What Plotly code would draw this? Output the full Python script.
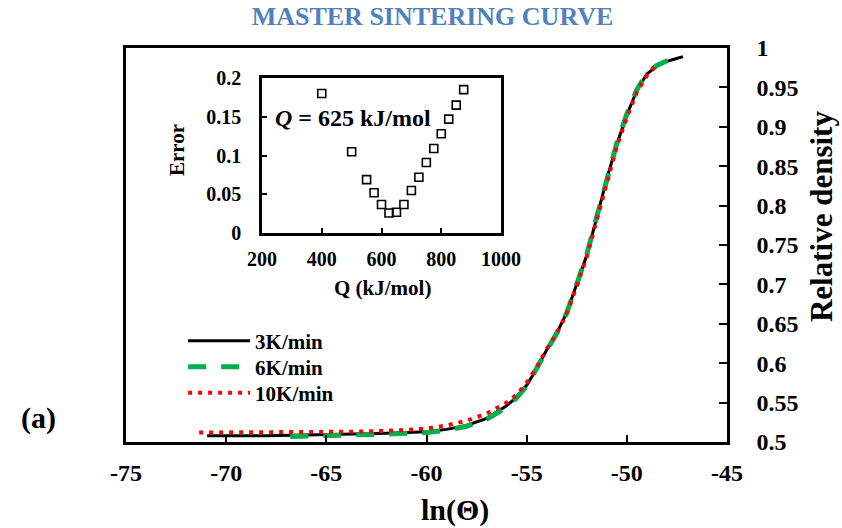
import plotly.graph_objects as go

# ---------------- data ----------------
ln_theta_3 = [-70.95, -68, -66, -64, -62, -60, -59, -58, -57, -56, -55.5, -55, -54.5, -54,
              -53.5, -53, -52.5, -52, -51.5, -51, -50.5, -50, -49.5, -49, -48.5, -48, -47.6, -47.2]
dens_3 = [0.508, 0.508, 0.509, 0.510, 0.511, 0.513, 0.516, 0.521, 0.530, 0.546, 0.557, 0.572, 0.593, 0.617,
          0.638, 0.664, 0.700, 0.737, 0.785, 0.834, 0.878, 0.915, 0.946, 0.967, 0.977, 0.983, 0.986, 0.989]

ln_theta_6 = [-66.8, -64, -62, -60, -59, -58, -57, -56, -55.5, -55, -54.5, -54,
              -53.5, -53, -52.5, -52, -51.5, -51, -50.5, -50, -49.5, -49, -48.5, -47.9]
dens_6 = [0.507, 0.508, 0.510, 0.512, 0.515, 0.520, 0.529, 0.544, 0.556, 0.571, 0.592, 0.616,
          0.638, 0.664, 0.700, 0.738, 0.786, 0.835, 0.879, 0.916, 0.947, 0.968, 0.978, 0.985]

ln_theta_10 = [-71.35, -68, -66, -64, -62, -60, -59, -58, -57, -56, -55.5, -55, -54.5, -54,
               -53.5, -53, -52.5, -52, -51.5, -51, -50.5, -50, -49.5, -49, -48.45]
dens_10 = [0.512, 0.512, 0.513, 0.513, 0.514, 0.517, 0.521, 0.527, 0.536, 0.550, 0.560, 0.575, 0.595, 0.618,
           0.638, 0.663, 0.698, 0.735, 0.782, 0.831, 0.875, 0.912, 0.944, 0.965, 0.980]

q_vals = [400, 500, 550, 575, 600, 625, 650, 675, 700, 725, 750, 775, 800, 825, 850, 875]
err_vals = [0.180, 0.105, 0.069, 0.052, 0.037, 0.026, 0.027, 0.037, 0.055, 0.072, 0.091, 0.109,
            0.128, 0.147, 0.165, 0.185]

x_ticks = [-75, -70, -65, -60, -55, -50, -45]
x_ticktext = ["-75", "-70", "-65", "-60", "-55", "-50", "-45"]
y_ticks = [0.5, 0.55, 0.6, 0.65, 0.7, 0.75, 0.8, 0.85, 0.9, 0.95, 1]
y_ticktext = ["0.5", "0.55", "0.6", "0.65", "0.7", "0.75", "0.8", "0.85", "0.9", "0.95", "1"]
ix_ticks = [200, 400, 600, 800, 1000]
iy_ticks = [0, 0.05, 0.1, 0.15, 0.2]
iy_ticktext = ["0", "0.05", "0.1", "0.15", "0.2"]

FONT = "Liberation Serif"

fig = go.Figure()
fig.add_trace(go.Scatter(x=ln_theta_3, y=dens_3, mode="lines", name="3K/min",
                         line=dict(color="black", width=3), legend="legend"))
fig.add_trace(go.Scatter(x=ln_theta_6, y=dens_6, mode="lines", name="6K/min",
                         line=dict(color="#00B050", width=5, dash="18px,15px"), legend="legend2"))
fig.add_trace(go.Scatter(x=ln_theta_10, y=dens_10, mode="lines", name="10K/min",
                         line=dict(color="#FF0000", width=4, dash="4px,6px"), legend="legend3"))
fig.add_trace(go.Scatter(x=q_vals, y=err_vals, mode="markers", xaxis="x2", yaxis="y2",
                         showlegend=False,
                         marker=dict(symbol="square-open", size=8, color="black",
                                     line=dict(width=1.6, color="black"))))

axis_common = dict(showgrid=False, zeroline=False, showline=True, linecolor="black",
                   mirror=True, ticks="inside", tickcolor="black", automargin=False)


def bfont(size, color="black"):
    return dict(family=FONT, size=size, color=color, weight="bold")


def leg(py):
    return dict(x=0.095, y=(442 - py) / 394, xanchor="left", yanchor="middle",
                bgcolor="rgba(0,0,0,0)", font=bfont(21), itemwidth=62)


fig.update_layout(
    width=842, height=528,
    margin=dict(l=126, r=115, t=48, b=86),
    paper_bgcolor="white", plot_bgcolor="white",
    font=dict(family=FONT, color="black"),
    title=dict(text="MASTER SINTERING CURVE", x=0.51, xref="paper", xanchor="center",
               y=1 - 16 / 528, yref="container", yanchor="middle",
               font=bfont(26, "#4F81BD")),
    xaxis=dict(**axis_common, range=[-75, -45], tickvals=x_ticks, ticktext=x_ticktext,
               linewidth=2.5, tickwidth=2, ticklen=7, ticklabelstandoff=7,
               tickfont=bfont(24)),
    yaxis=dict(**axis_common, range=[0.5, 1], side="right", tickvals=y_ticks, ticktext=y_ticktext,
               linewidth=2.5, tickwidth=2, ticklen=8, ticklabelstandoff=22,
               tickfont=bfont(24)),
    xaxis2=dict(**axis_common, domain=[0.2263, 0.624], anchor="y2", range=[200, 1000],
                tickvals=ix_ticks, linewidth=2.7, tickwidth=2, ticklen=5, ticklabelstandoff=6,
                tickfont=bfont(20)),
    yaxis2=dict(**axis_common, domain=[0.530, 0.924], anchor="x2", range=[0, 0.2],
                tickvals=iy_ticks, ticktext=iy_ticktext, linewidth=2.7, tickwidth=2, ticklen=5,
                ticklabelstandoff=14, tickfont=bfont(20)),
    legend=leg(341),
    legend2=leg(367),
    legend3=leg(393),
    showlegend=True,
    annotations=[
        dict(text="<i>Q</i> = 625 kJ/mol", xref="x2", yref="y2", x=505, y=0.148,
             xanchor="center", yanchor="middle", showarrow=False, font=bfont(24)),
        dict(text="(a)", xref="paper", yref="paper", x=-0.146, y=0.061,
             xanchor="center", yanchor="middle", showarrow=False, font=bfont(30)),
        dict(text="ln(Θ)", xref="paper", yref="paper", x=0.547, y=-0.173,
             xanchor="center", yanchor="middle", showarrow=False, font=bfont(30)),
        dict(text="Relative density", xref="paper", yref="paper", x=(821 - 126) / 601, y=0.571,
             xanchor="center", yanchor="middle", showarrow=False, textangle=-90,
             font=bfont(31)),
        dict(text="Error", xref="paper", yref="paper", x=0.0849, y=0.741,
             xanchor="center", yanchor="middle", showarrow=False, textangle=-90,
             font=bfont(21)),
        dict(text="Q (kJ/mol)", xref="paper", yref="paper", x=0.426, y=0.391,
             xanchor="center", yanchor="middle", showarrow=False, font=bfont(21)),
    ],
)

fig.write_html("out.html", config={"displayModeBar": False},
               post_script="document.body.style.margin='0';")
